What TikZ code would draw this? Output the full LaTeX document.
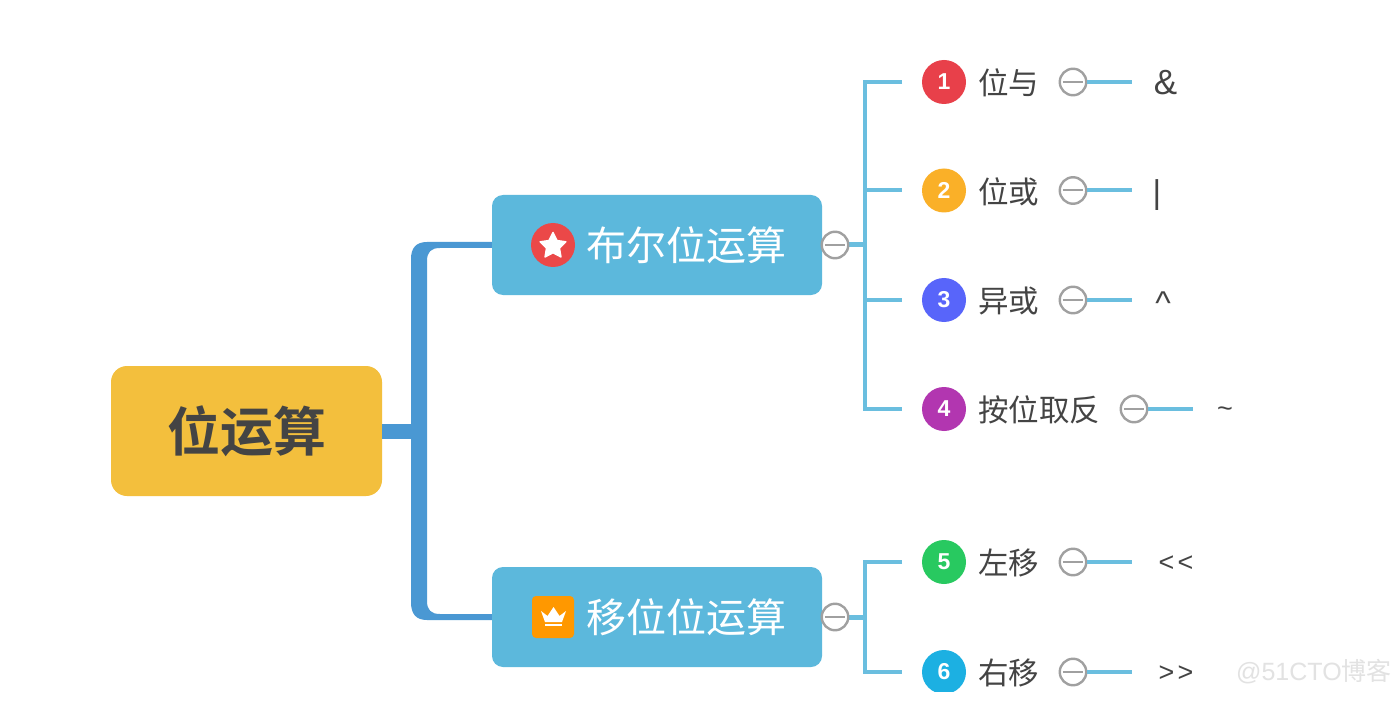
\documentclass[tikz,border=0pt]{standalone}
\usepackage{fontspec}
\setmainfont{Liberation Sans}
\newfontfamily\cjk{Noto Sans CJK SC}
\newfontfamily\cjkbold{Noto Sans CJK SC Bold}
\usetikzlibrary{shapes.geometric,calc}
\definecolor{rootfill}{HTML}{F3BF3D}
\definecolor{subfill}{HTML}{5CB8DC}
\definecolor{trunk}{HTML}{4A98D3}
\definecolor{leafline}{HTML}{6ABEDF}
\definecolor{ink}{HTML}{444444}
\definecolor{foldc}{HTML}{A0A0A0}
\tikzset{
  x=1pt,y=-1pt,
  rootbox/.style={draw=none,fill=rootfill,rounded corners=16pt,minimum width=271pt,minimum height=130pt,inner sep=0pt,text=ink,font=\fontsize{53}{53}\cjkbold},
  subbox/.style={draw=none,fill=subfill,rounded corners=11pt,minimum width=330pt,minimum height=100pt,inner sep=0pt},
  subtext/.style={inner sep=0pt,text=white,font=\fontsize{40}{40}\cjk,anchor=west},
  numdot/.style={circle,minimum size=44pt,inner sep=0pt,text=white,font=\fontsize{23}{23}\bfseries},
  leaftext/.style={inner sep=0pt,text=ink,font=\fontsize{30.5}{30.5}\cjk,anchor=west},
  valtext/.style={inner sep=0pt,text=ink},
  fold/.style={circle,draw=foldc,line width=2.4pt,fill=white,minimum size=26.5pt,inner sep=0pt,
    path picture={\draw[foldc,line width=2pt] ([xshift=3pt]path picture bounding box.west) -- ([xshift=-3pt]path picture bounding box.east);}},
  branchline/.style={draw=leafline,line width=4pt},
  stemline/.style={draw=leafline,line width=5pt},
  mainline/.style={draw=trunk,line width=15pt},
  trunkshape/.style={fill=trunk,draw=none},
}
\begin{document}
\begin{tikzpicture}
\useasboundingbox[fill=white] (0,0) rectangle (1394,719);
% main boxes
\node[rootbox] (root) at (246.5,431) {位运算};
\node[subbox] (b1) at (657,245) {};
\node[subbox] (b2) at (657,617) {};
\node[subtext] (t1) at (586,245) {布尔位运算};
\node[subtext] (t2) at (586,617) {移位位运算};
% icons
\node[circle,fill={rgb,255:red,235;green,72;blue,72},minimum size=44pt,inner sep=0pt] (star) at (553,245) {};
\node[star,star points=5,star point ratio=2.0,fill=white,draw=white,line width=1.5pt,line join=round,minimum size=27pt,inner sep=0pt] (starin) at (553,246) {};
\node[fill={rgb,255:red,255;green,152;blue,0},rounded corners=4pt,minimum size=42pt,inner sep=0pt] (crown) at (553,617) {};
\fill[white] (541,611) -- (547.5,616) -- (553.5,607) -- (559.5,616) -- (566,611) -- (562,622) -- (545,622) -- cycle;
\fill[white] (545,623.5) rectangle (562,626);
% trunk
\coordinate (j) at (418.5,431);
\fill[trunkshape] ([yshift=3pt]b1.west) -- (427,242) .. controls (416,242) and (411,248) .. (411,259)
  -- (411,602) .. controls (411,614) and (416,620) .. (427,620) -- ([yshift=-3pt]b2.west) -- ([yshift=3pt]b2.west) -- (440,614) .. controls (431,614) and (427,610) .. (427,601)
  -- (427,261) .. controls (427,252) and (431,248) .. (440,248) -- ([yshift=-3pt]b1.west) -- cycle;
\draw[mainline] (root.east |- j) -- (j);
% branch spines
\coordinate (s1) at (865,245);
\coordinate (s2) at (865,617);
\node[numdot,fill={rgb,255:red,232;green,64;blue,74}] (n1) at (944,82) {1};
\node[numdot,fill={rgb,255:red,250;green,176;blue,40}] (n2) at (944,190.5) {2};
\node[numdot,fill={rgb,255:red,88;green,101;blue,250}] (n3) at (944,300) {3};
\node[numdot,fill={rgb,255:red,178;green,54;blue,176}] (n4) at (944,409) {4};
\node[numdot,fill={rgb,255:red,40;green,201;blue,96}] (n5) at (944,562) {5};
\node[numdot,fill={rgb,255:red,28;green,176;blue,226}] (n6) at (944,672) {6};
\fill[white] (915,691.5) rectangle (975,719);
\node[leaftext] (l1) at (978,83) {位与};
\node[leaftext] (l2) at (978,191.5) {位或};
\node[leaftext] (l3) at (978,301) {异或};
\node[leaftext] (l4) at (978,410) {按位取反};
\node[leaftext] (l5) at (978,563) {左移};
\node[leaftext] (l6) at (978,673) {右移};
% stems from sub boxes
\coordinate (e1) at (902,82);
\coordinate (e2) at (902,190.5);
\coordinate (e3) at (902,300);
\coordinate (e4) at (902,409);
\coordinate (e5) at (902,562);
\coordinate (e6) at (902,672);
\draw[branchline,line join=miter] (e1) -- (s1 |- e1) -- (s1 |- e4) -- (e4);
\draw[branchline] (s1 |- e2) -- (e2);
\draw[branchline] (s1 |- e3) -- (e3);
\draw[branchline,line join=miter] (e5) -- (s2 |- e5) -- (s2 |- e6) -- (e6);
\draw[stemline] (b1.east) -- (s1);
\draw[stemline] (b2.east) -- (s2);
\node[fold] (f1) at (835,245) {};
\node[fold] (f2) at (835,617) {};
% leaf fold marks and value lines
\coordinate (v1) at (1132,82);
\coordinate (v2) at (1132,190.5);
\coordinate (v3) at (1132,300);
\coordinate (v4) at (1193,409);
\coordinate (v5) at (1132,562);
\coordinate (v6) at (1132,672);
\node[fold] (m1) at (1073,82) {};
\node[fold] (m2) at (1073,190.5) {};
\node[fold] (m3) at (1073,300) {};
\node[fold] (m4) at (1134,409) {};
\node[fold] (m5) at (1073,562) {};
\node[fold] (m6) at (1073,672) {};
\foreach \i in {1,...,6} {\draw[branchline] (m\i.east) -- (v\i);}
\node[valtext,font=\fontsize{35}{35}\selectfont] (a1) at (1165.5,83) {\&};
\node[valtext,font=\fontsize{33}{33}\selectfont] (a2) at (1157,195) {|};
\node[valtext,font=\fontsize{33}{33}\selectfont] (a3) at (1163,303) {\char`\^};
\node[valtext,font=\fontsize{27}{27}\selectfont] (a4) at (1225,412) {\char`\~};
\node[valtext,font=\fontsize{27}{27}\selectfont] (a5) at (1176,564) {<\hspace{3pt}<};
\node[valtext,font=\fontsize{27}{27}\selectfont] (a6) at (1176,674) {>\hspace{3pt}>};
% watermark
\node[inner sep=0pt,text={rgb,255:red,226;green,226;blue,226},font=\fontsize{25}{25}\selectfont,anchor=west] (wm) at (1236,672) {@51CTO{\cjk 博客}};
\end{tikzpicture}
\end{document}
